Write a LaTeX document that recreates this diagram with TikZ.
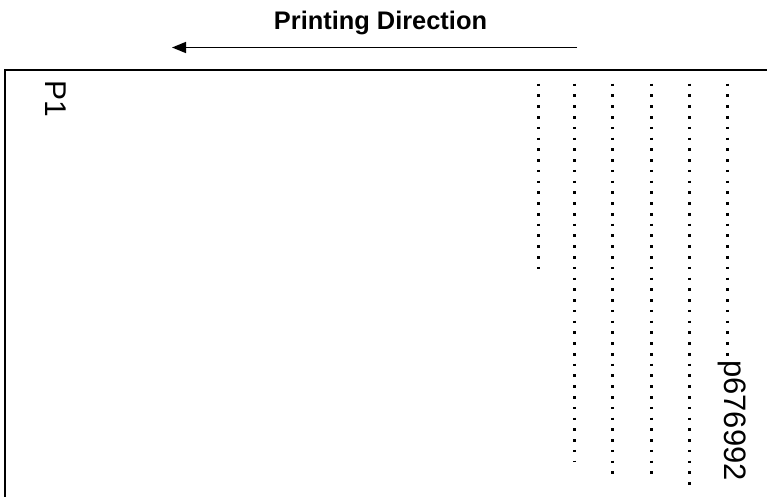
\documentclass[tikz,border=0pt]{standalone}
\usepackage{fontspec}
\setmainfont{Liberation Sans}
\usetikzlibrary{arrows.meta}
\tikzset{
  dotline/.style={line width=3pt, dash pattern=on 2.6pt off 8.17pt},
  bigtext/.style={font=\fontsize{30}{34}\selectfont, inner sep=0pt, rotate=-90, anchor=base west},
  frame/.style={line width=2pt},
}
\begin{document}
\begin{tikzpicture}[x=1pt,y=-1pt]
\useasboundingbox (0,0) rectangle (767,497);
\clip (0,0) rectangle (767,497);
% title and arrow
\node[font=\bfseries\fontsize{25.4}{30}\selectfont, inner sep=0pt, anchor=base] (title) at (380.5,30) {Printing Direction};
\coordinate (arrS) at (577,47.5);
\coordinate (arrE) at (172,47.5);
\draw[line width=1.5pt, -{Triangle[length=14pt,width=11pt]}] (arrS) -- (arrE);
% frame (extends beyond the page)
\draw[frame] (5,70) rectangle (790,520);
\node[bigtext] (p1) at (45,80.5) {P1};
% dotted lines
\coordinate (a1) at (538.5,83.7); \coordinate (b1) at (538.5,269);
\coordinate (a2) at (574.5,83.7); \coordinate (b2) at (574.5,461);
\coordinate (a3) at (612.5,83.7); \coordinate (b3) at (612.5,478);
\coordinate (a4) at (651.5,83.7); \coordinate (b4) at (651.5,478);
\coordinate (a5) at (689.5,83.7); \coordinate (b5) at (689.5,486);
\coordinate (a6) at (727.5,83.7); \coordinate (b6) at (727.5,358);
\foreach \i in {1,...,6} {\draw[dotline] (a\i) -- (b\i);}
\node[bigtext, font=\fontsize{31}{34}\selectfont] (lbl) at (724,360) {p676992};
\end{tikzpicture}
\end{document}
